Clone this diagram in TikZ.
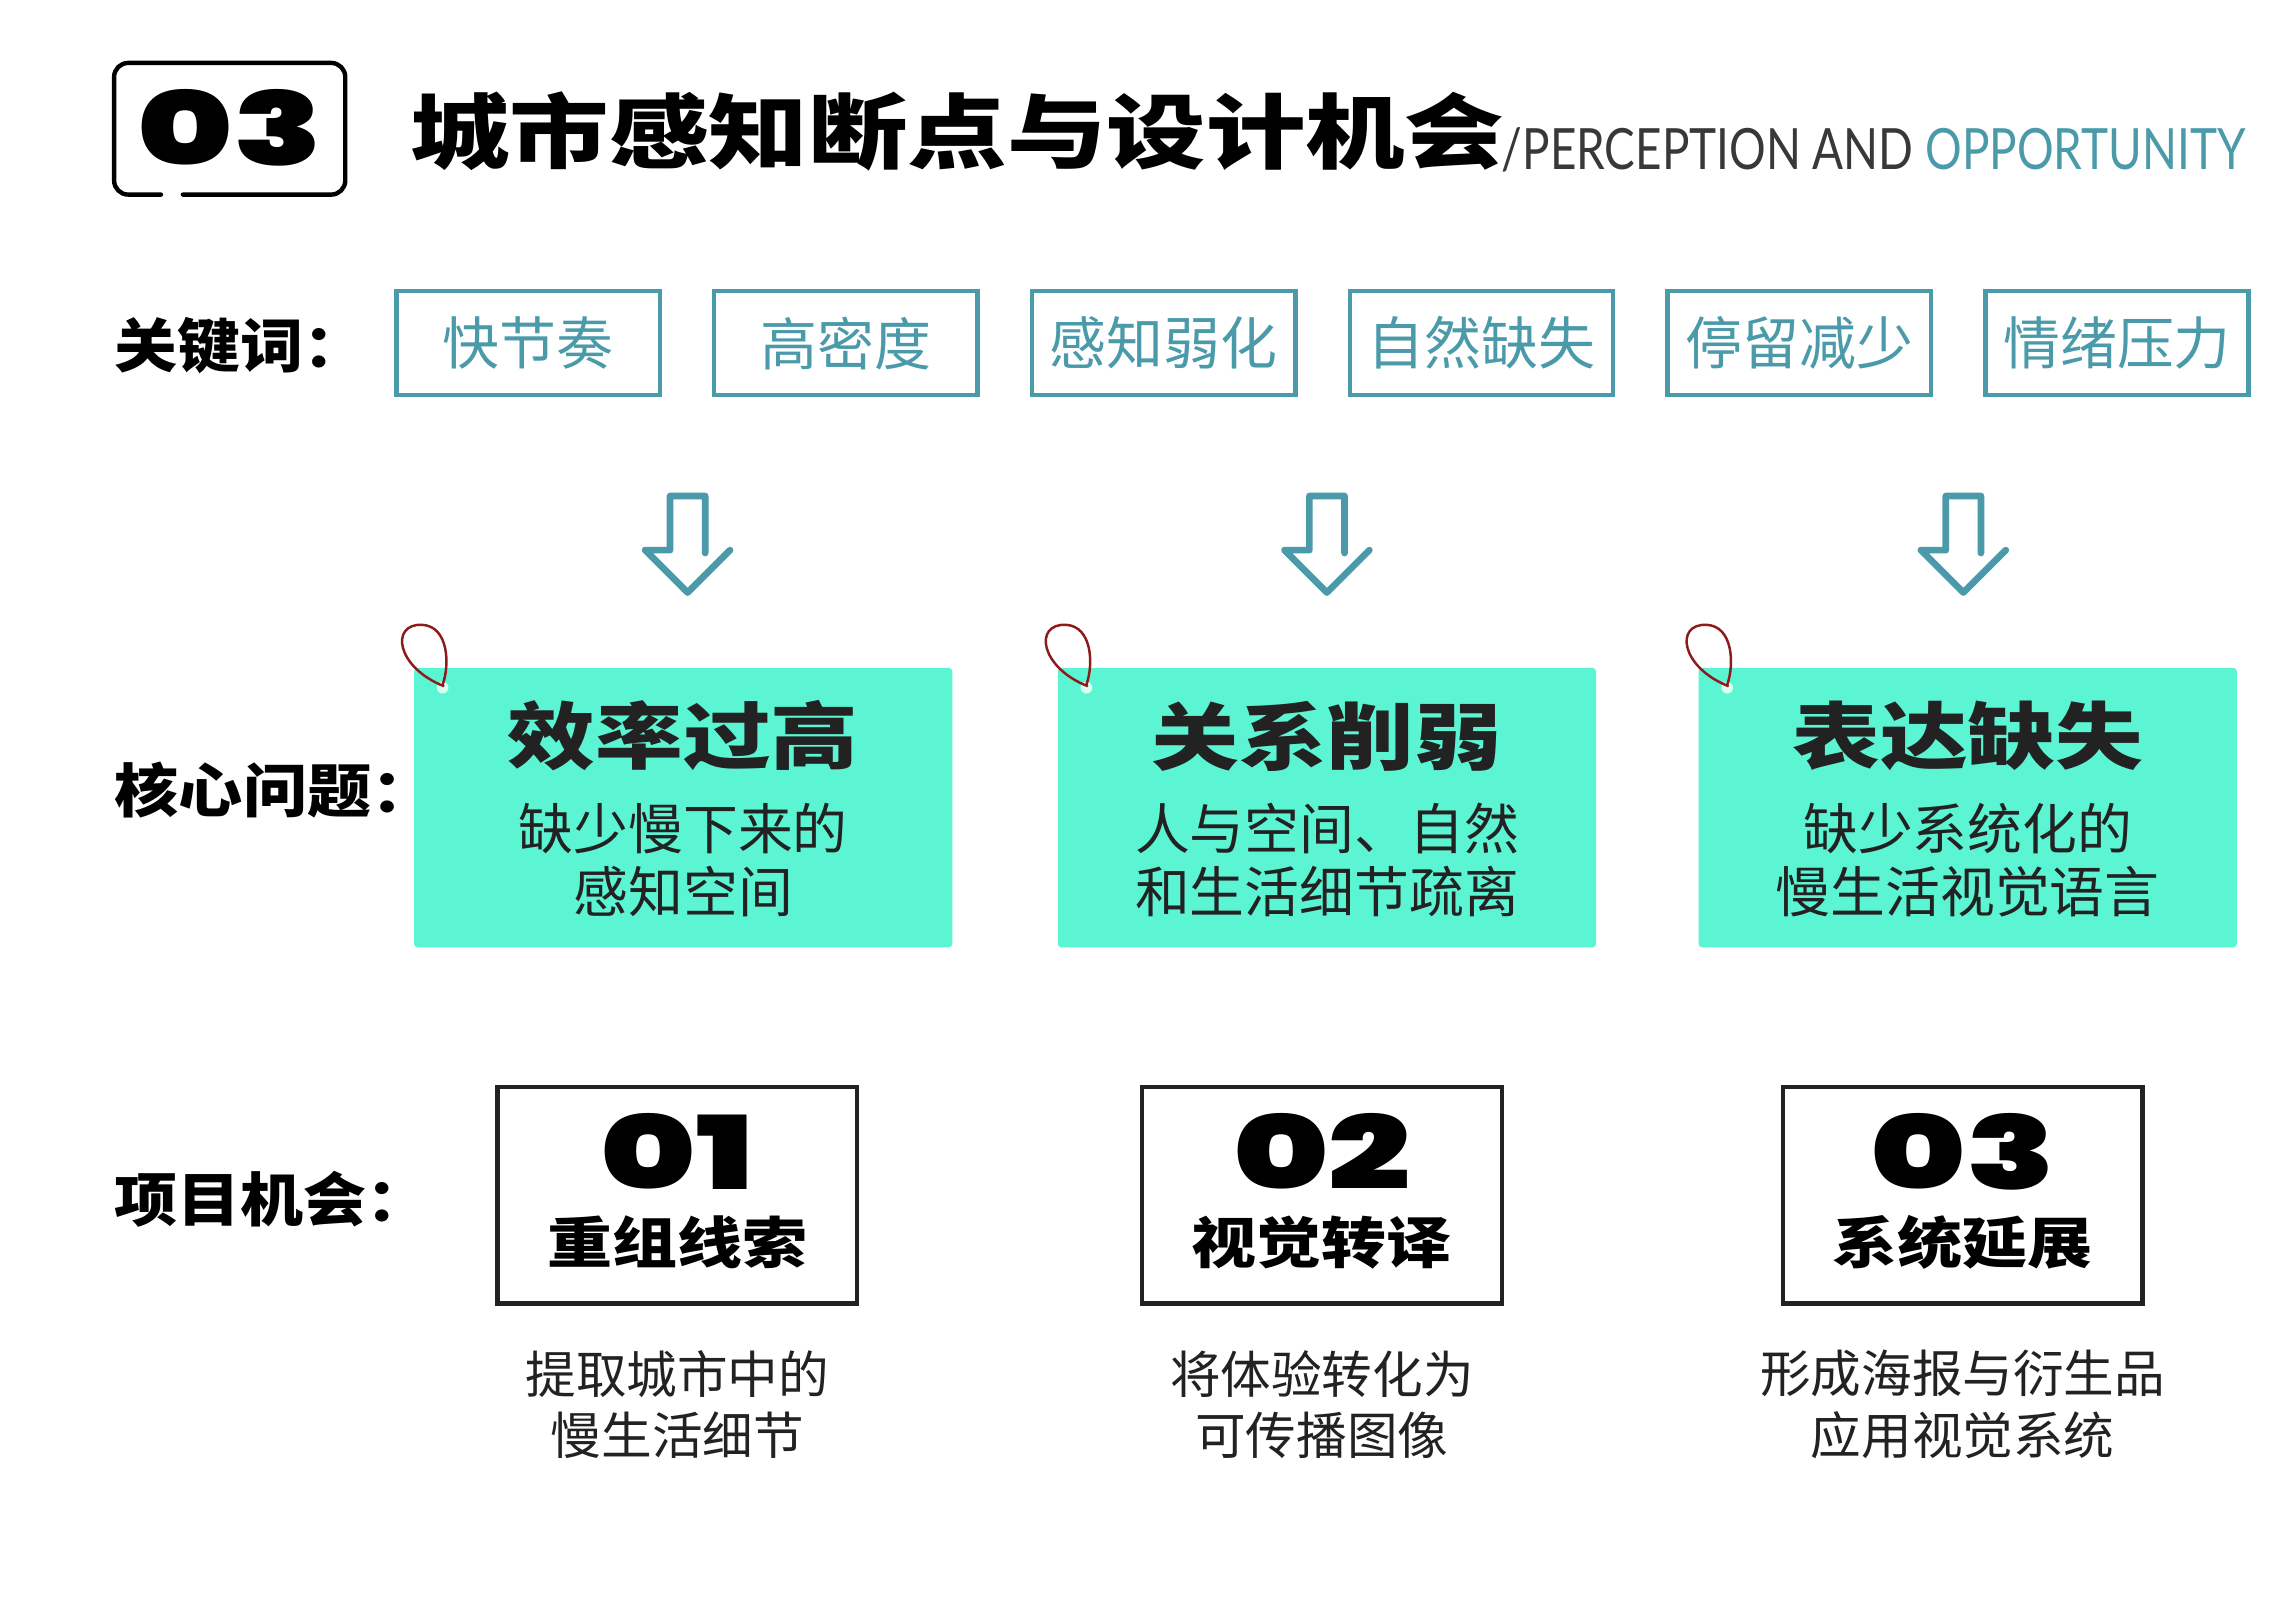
\documentclass[tikz,border=0pt]{standalone}
\usepackage{fontspec}
\usepackage{graphicx}
\setmainfont{Noto Sans CJK SC}
\newfontfamily\enfont{Lato}
\newfontfamily\numfont{Poppins}[BoldFont={Poppins Black}]
\usetikzlibrary{positioning}
\definecolor{kwteal}{HTML}{4A9AAA}
\definecolor{mint}{HTML}{5CF5D4}
\definecolor{ink}{HTML}{222222}
\definecolor{tagstring}{HTML}{8E1B1B}
\definecolor{holecol}{HTML}{D9FFEF}
\newcommand{\wide}[2]{\scalebox{#1}[1]{#2}}

\begin{document}
\begin{tikzpicture}[
  x=0.01463cm, y=-0.01463cm,
  kwbox/.style={
    draw=kwteal,
    line width=1.25pt,
    minimum width=2.633cm,
    minimum height=1.039cm,
    inner sep=0pt,
    text=kwteal,
    font=\fontsize{16.2pt}{19pt}\selectfont
  },
  rowlabel/.style={anchor=west, inner sep=0pt, font=\bfseries\fontsize{16.6pt}{20pt}\selectfont},
  card/.style={
    fill=mint,
    rounded corners=1pt,
    minimum width=5.384cm,
    minimum height=2.794cm,
    inner sep=0pt
  },
  cardtitle/.style={inner sep=0pt, text=ink, font=\bfseries\fontsize{20.8pt}{24pt}\selectfont},
  cardtext/.style={inner sep=0pt, align=center, text=ink, font=\fontsize{15.6pt}{17.85pt}\selectfont},
  numbox/.style={
    draw=ink,
    line width=1.25pt,
    minimum width=3.599cm,
    minimum height=2.165cm
  },
  numtext/.style={inner sep=0pt, font=\numfont\bfseries\fontsize{29pt}{29pt}\selectfont},
  numlabel/.style={inner sep=0pt, font=\bfseries\fontsize{15.8pt}{18pt}\selectfont},
  capline/.style={inner sep=0pt, align=center, text=ink, font=\fontsize{14.4pt}{17.4pt}\selectfont},
  hdrline/.style={line width=1.25pt, rounded corners=4pt, line cap=round},
  dnarrow/.style={draw=kwteal, line width=1.9pt, line cap=round, line join=round},
  tagloop/.style={draw=tagstring, line width=0.7pt}
]
\useasboundingbox (0,0) rectangle (1568,1100);

% header
\node[numtext] (hdrnum) at (157,87) {\wide{1.42}{03}};
\draw[hdrline] (110,133) -- (78,133) -- (78,43) -- (236,43) -- (236,133) -- (125,133);
\node[anchor=west, inner sep=0pt, font=\bfseries\fontsize{23.2pt}{28pt}\selectfont] (title) at (280,90) {\wide{1.22}{城市感知断点与设计机会}};
\node[anchor=base west, inner sep=0pt, text=ink!90, font=\enfont\fontsize{16.2pt}{19pt}\selectfont] (subtitle) at (1026,116) {\wide{0.805}{/PERCEPTION AND \textcolor{kwteal}{OPPORTUNITY}}};

% row labels
\node[rowlabel] (kwlabel) at (78,236) {\wide{1.08}{关键词：}};
\node[rowlabel] (corelabel) at (78,540) {\wide{1.1}{核心问题：}};
\node[rowlabel] (opplabel) at (78,820) {\wide{1.08}{项目机会：}};

% keywords
\foreach \w [count=\i from 0] in {快节奏,高密度,感知弱化,自然缺失,停留减少,情绪压力}
  \node[kwbox] (kw\i) at (361+217.2*\i,234.5) {\w};

% arrows
\foreach \ax in {470,907,1342}
  \draw[dnarrow] (\ax+29,376) -- (\ax,405) -- (\ax-29,376) -- (\ax-12,376) -- (\ax-12,339) -- (\ax+12,339) -- (\ax+12,378);

% tags
\foreach \i/\cx/\ttl/\subA/\subB in {1/467/效率过高/缺少慢下来的/感知空间,
    2/907/关系削弱/人与空间、自然/和生活细节疏离,
    3/1345/表达缺失/缺少系统化的/慢生活视觉语言}{
  \node[card] (card\i) at (\cx,552) {};
  \begin{scope}[shift={(card\i.north west)}]
    \fill[holecol] (20,14) circle[radius=4];
    \draw[tagloop] (21,13) .. controls (-12,0) and (-16,-30) .. (6,-29) .. controls (24,-28) and (25,-2) .. (20,12);
  \end{scope}
  \node[cardtitle] (ttl\i) at (\cx,503) {\wide{1.2}{\ttl}};
  \node[cardtext] (sub\i) at (\cx,588) {\subA\\\subB};
}

% opportunities
\foreach \i/\bx/\nn/\lab/\ca/\cb in {1/463/01/重组线索/提取城市中的/慢生活细节,
    2/903.5/02/视觉转译/将体验转化为/可传播图像,
    3/1341.5/03/系统延展/形成海报与衍生品/应用视觉系统}{
  \node[numbox] (box\i) at (\bx,817) {};
  \node[numtext] (num\i) at (\bx,787) {\wide{1.42}{\nn}};
  \node[numlabel] (lab\i) at (\bx,849) {\wide{1.17}{\lab}};
  \node[capline, below=0.44cm of box\i] (cap\i) {\ca\\\cb};
}
\end{tikzpicture}
\end{document}
